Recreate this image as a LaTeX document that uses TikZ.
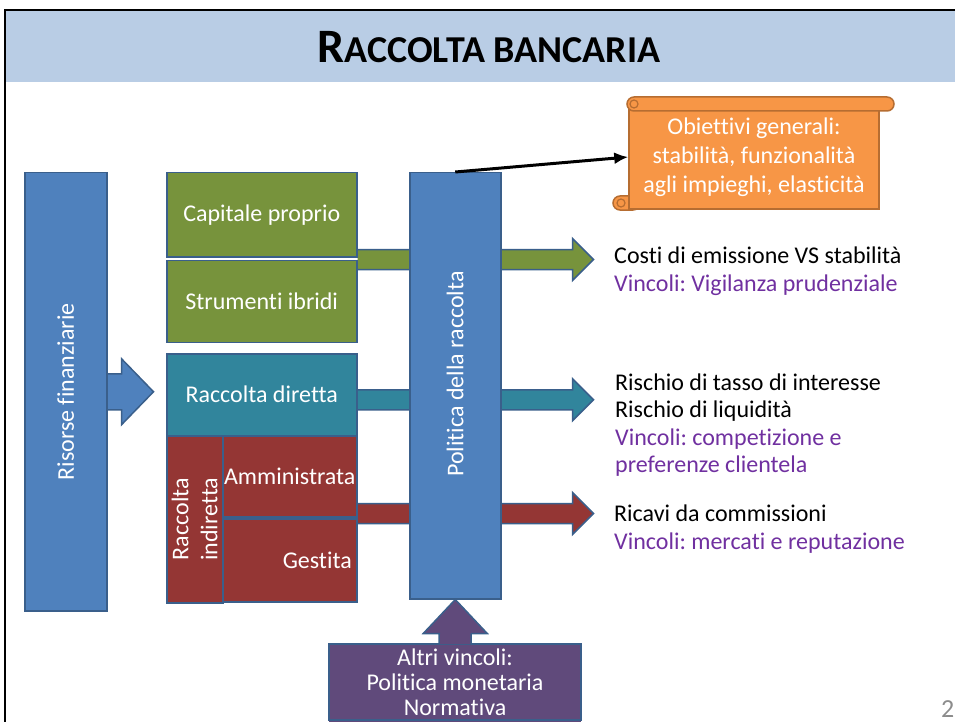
\documentclass[tikz,border=0pt]{standalone}
\usepackage{fontspec}
\setmainfont{Carlito}[Ligatures=NoCommon]
\usetikzlibrary{calc,arrows.meta,positioning}
\frenchspacing

\definecolor{titlebg}{HTML}{B9CDE5}
\definecolor{cblue}{HTML}{4F81BD}
\definecolor{boxline}{HTML}{3A5F8B}
\definecolor{cgreen}{HTML}{77933C}
\definecolor{cteal}{HTML}{31859C}
\definecolor{cred}{HTML}{943634}
\definecolor{cpurple}{HTML}{604A7B}
\definecolor{corange}{HTML}{F79646}
\definecolor{scrline}{HTML}{B66D31}
\definecolor{vinc}{HTML}{7030A0}
\definecolor{pagenum}{HTML}{8C8C8C}

\pgfdeclarelayer{back}
\pgfsetlayers{back,main}

\tikzset{
	box/.style={draw=boxline, line width=1.5pt, text=white, inner sep=0pt, anchor=north west, font=\fontsize{24}{28}\selectfont},
	boxtext/.style={text=white, inner sep=0pt, font=\fontsize{24}{29}\selectfont},
	side/.style={anchor=west, align=left, inner sep=0pt, font=\fontsize{24}{27.5}\selectfont},
	scroll/.style={fill=corange, draw=scrline, line width=1.5pt},
}

% fat arrow: colour, start, tip, half shaft, half head, head length
\newcommand{\fatarrow}[6]{%
	\path[fill=#1, draw=boxline, line width=1.5pt] ($(#2)+(0,-#4)$) -- ($(#3)+(-#6,-#4)$) -- ($(#3)+(-#6,-#5)$) -- (#3) -- ($(#3)+(-#6,#5)$) -- ($(#3)+(-#6,#4)$) -- ($(#2)+(0,#4)$);
}

\begin{document}
\begin{tikzpicture}[x=1pt,y=-1pt]
	\def\hs{10}		%half shaft of the arrows on the right
	\def\hh{21}		%half head
	\def\hl{21}		%head length
	\def\reach{236}	%how far they go past the boxes
	\useasboundingbox (0,0) rectangle (955,722);
	\clip (0,0) rectangle (955,722);
	\fill[titlebg] (5,10) rectangle (955,82);				%title band
	\draw[line width=2pt] (5,722) -- (5,10) -- (955,10);	%slide frame
	\node[font=\fontsize{48}{48}\selectfont\bfseries] (title) at (489,47) {R\fontsize{38}{38}\selectfont ACCOLTA BANCARIA};

	% boxes
	\node[box, fill=cblue, minimum width=82pt, minimum height=438pt] (ris) at (24,172) {};
	\node[boxtext, rotate=90] (ristext) at (ris.center) {Risorse finanziarie};
	\node[box, fill=cgreen, minimum width=190pt, minimum height=84pt] (cap) at (166,172) {Capitale proprio};
	\node[box, fill=cgreen, minimum width=190pt, minimum height=82pt, below=2pt of cap] (ibr) {Strumenti ibridi};
	\node[box, fill=cteal, minimum width=190pt, minimum height=82pt, below=10pt of ibr] (dir) {Raccolta diretta};
	\node[box, fill=cred, minimum width=56pt, minimum height=167pt] (ind) at (166,435) {};
	\node[boxtext, rotate=90, align=center] (indtext) at (ind.center) {Raccolta\\indiretta};
	\node[box, fill=cred, minimum width=134pt, minimum height=81pt] (amm) at (222,435) {Amministrata};
	\node[box, fill=cred, minimum width=134pt, minimum height=83pt, text width=124pt, align=right] (ges) at (222,518) {Gestita};
	\node[box, fill=cblue, minimum width=91pt, minimum height=426pt] (pol) at (409,172) {};
	\node[boxtext, rotate=90] (poltext) at (455,374) {Politica della raccolta};
	\node[box, fill=cpurple, anchor=north, minimum width=252pt, minimum height=76pt, align=center, font=\fontsize{24}{25}\selectfont] (alt) at (455,643) {Altri vincoli:\\Politica monetaria\\Normativa};

	% arrows behind the boxes
	\begin{pgfonlayer}{back}
	\coordinate (ris-tip) at ($(ris.east)+(46,0)$);
	\fatarrow{cblue}{ris.east}{ris-tip}{18}{33}{32}
	\foreach \src/\anc/\dy/\col in {cap/south east/2/cgreen, dir/east/5/cteal, amm/south east/-4/cred}{
		\coordinate (\src-start) at ($(\src.\anc)+(0,\dy)$);
		\coordinate (\src-tip) at ($(\src-start)+(\reach,0)$);
		\fatarrow{\col}{\src-start}{\src-tip}{\hs}{\hh}{\hl}
	}
	\end{pgfonlayer}
	\path[fill=cpurple, draw=boxline, line width=1.5pt] ($(alt.north)+(-16,1)$) -- ($(pol.south)+(-16,34)$) -- ($(pol.south)+(-32,34)$) -- (pol.south) -- ($(pol.south)+(32,34)$) -- ($(pol.south)+(16,34)$) -- ($(alt.north)+(16,1)$);
	\fill[cpurple] ($(alt.south west)+(1,0)$) rectangle (581,722);	%box runs off the page

	% scroll
	\draw[scroll, rounded corners=7pt] (613,196) rectangle (640,210);	%bottom curl
	\node[scroll, minimum width=250pt, minimum height=104pt, text=white, align=center, inner sep=0pt, font=\fontsize{24}{29}\selectfont] (obj) at (754,157) {Obiettivi generali:\\stabilità, funzionalità\\agli impieghi, elasticità};
	\draw[scroll, rounded corners=7pt] (627,97) rectangle (894,111);	%top roll
	\draw[scrline, line width=1.2pt] (634,104) circle (4pt) (621,203) circle (4pt);
	\draw[line width=3pt, -{Latex[length=14pt,width=12pt]}] (pol.north) -- (obj.west);

	% texts on the right
	\node[side] (costi) at (614,271) {Costi di emissione VS stabilità\\\color{vinc}Vincoli: Vigilanza prudenziale};
	\node[side] (rischi) at (615,425) {Rischio di tasso di interesse\\Rischio di liquidità\\\color{vinc}Vincoli: competizione e\\\color{vinc}preferenze clientela};
	\node[side] (ricavi) at (614,529) {Ricavi da commissioni\\\color{vinc}Vincoli: mercati e reputazione};
	\node[text=pagenum, anchor=west, inner sep=0pt, font=\fontsize{26}{26}\selectfont] (pg) at (941,709) {2};
\end{tikzpicture}
\end{document}
